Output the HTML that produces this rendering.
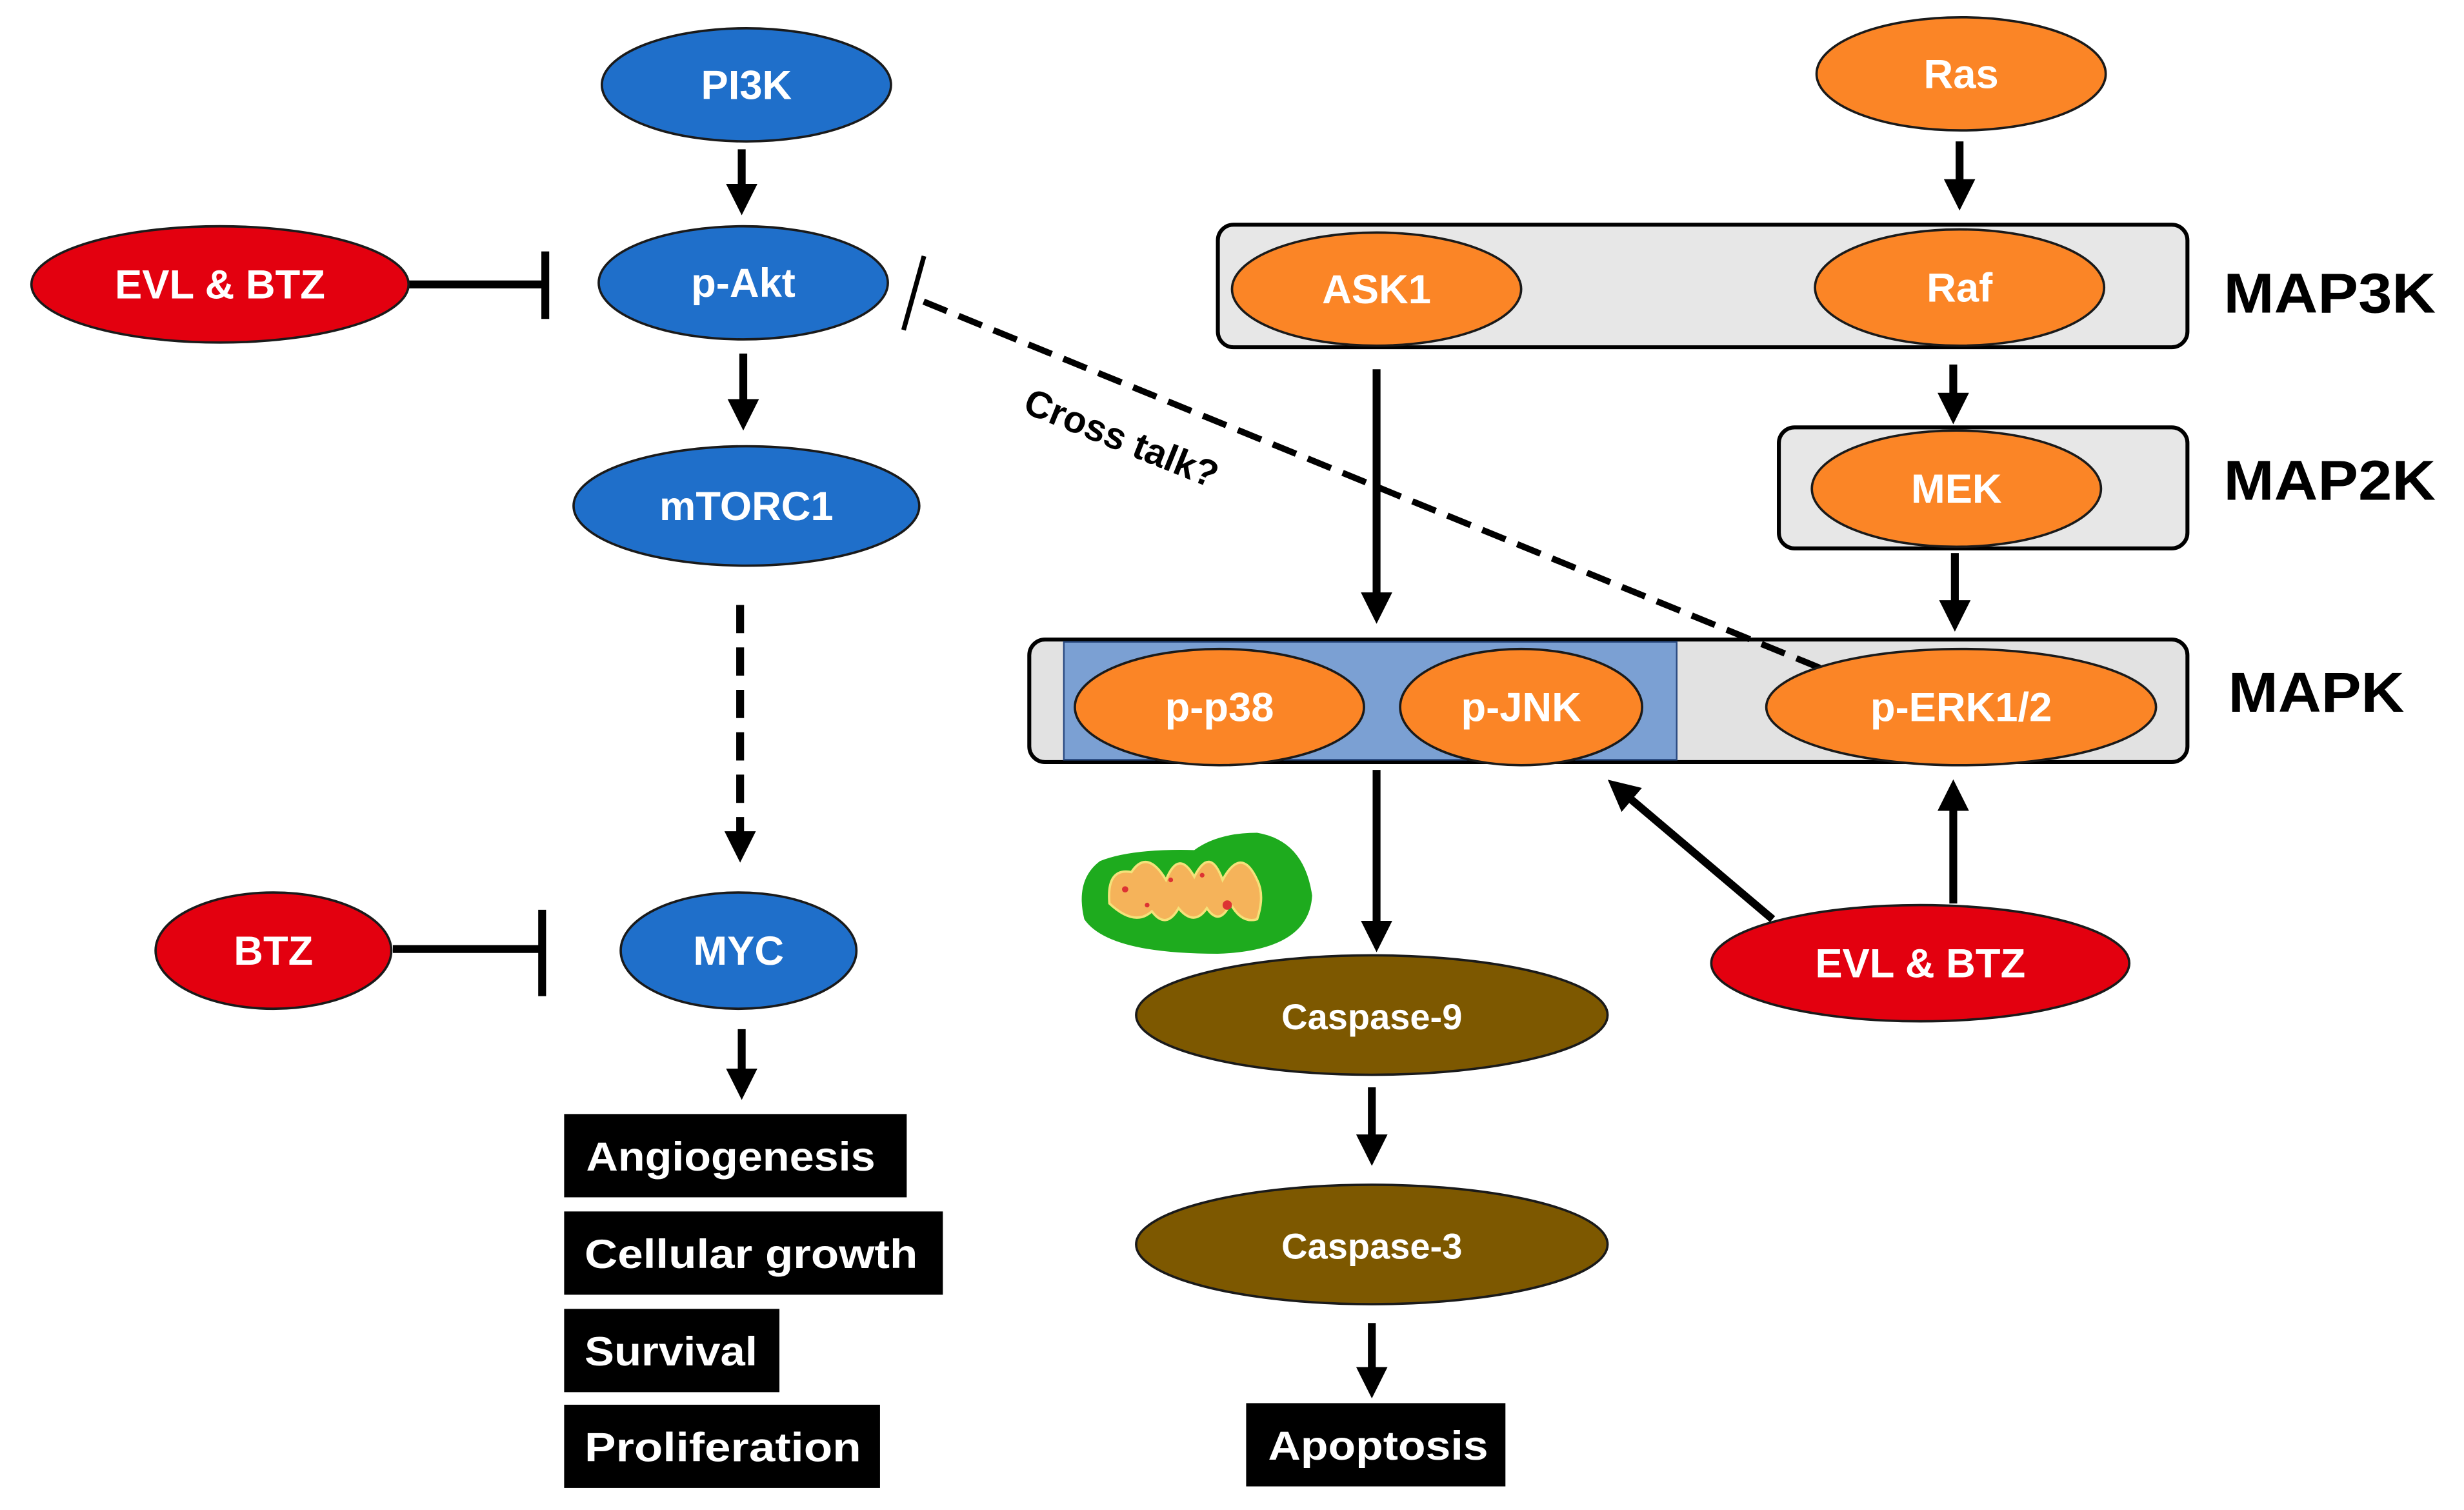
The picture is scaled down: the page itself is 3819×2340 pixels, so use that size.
<!DOCTYPE html>
<html><head><meta charset="utf-8"><style>html,body{margin:0;padding:0;background:#fff}svg{display:block}</style></head>
<body>
<svg width="3819" height="2340" viewBox="0 0 1568 961" preserveAspectRatio="none" xmlns="http://www.w3.org/2000/svg" font-family="Liberation Sans, sans-serif" font-weight="bold">
<defs>
<marker id="ah" markerWidth="4" markerHeight="4" refX="2.2" refY="2" orient="auto" markerUnits="strokeWidth"><path d="M0,0 L4,2 L0,4 z" fill="#000"/></marker>
</defs>
<g stroke="#000" stroke-width="5" fill="none">
<line x1="472" y1="95" x2="472" y2="128" marker-end="url(#ah)"/>
<line x1="473" y1="225" x2="473" y2="265" marker-end="url(#ah)"/>
<line x1="471" y1="385" x2="471" y2="540" stroke-dasharray="18,9" marker-end="url(#ah)"/>
<line x1="472" y1="655" x2="472" y2="691" marker-end="url(#ah)"/>
<line x1="260" y1="181" x2="347" y2="181"/>
<line x1="347" y1="160" x2="347" y2="203"/>
<line x1="250" y1="604" x2="345" y2="604"/>
<line x1="345" y1="579" x2="345" y2="634"/>
<line x1="1247" y1="90" x2="1247" y2="125" marker-end="url(#ah)"/>
<line x1="1243" y1="232" x2="1243" y2="261" marker-end="url(#ah)"/>
<line x1="1244" y1="352" x2="1244" y2="393" marker-end="url(#ah)"/>
<line x1="876" y1="235" x2="876" y2="388" marker-end="url(#ah)"/>
<line x1="876" y1="490" x2="876" y2="597" marker-end="url(#ah)"/>
<line x1="873" y1="692" x2="873" y2="733" marker-end="url(#ah)"/>
<line x1="873" y1="842" x2="873" y2="881" marker-end="url(#ah)"/>
<line x1="1128" y1="585" x2="1030" y2="502" marker-end="url(#ah)"/>
<line x1="1243" y1="575" x2="1243" y2="505" marker-end="url(#ah)"/>
</g>
<rect x="775" y="143" width="617" height="78" rx="10" fill="#e7e7e7" stroke="#000" stroke-width="2.5"/>
<rect x="1132" y="272" width="260" height="77" rx="10" fill="#e7e7e7" stroke="#000" stroke-width="2.5"/>
<rect x="655" y="407" width="737" height="78" rx="10" fill="#e2e2e2" stroke="#000" stroke-width="2.5"/>
<rect x="677" y="408.5" width="390" height="75" fill="#7ba0d3" stroke="#2a4a80" stroke-width="1"/>
<line x1="1158" y1="425" x2="583" y2="190" stroke="#000" stroke-width="4" stroke-dasharray="16,8"/>
<line x1="575" y1="210" x2="588" y2="163" stroke="#000" stroke-width="3"/>
<text x="650" y="262" font-size="24" fill="#000" transform="rotate(22 650 262)">Cross talk?</text>
<g stroke="#1a1a1a" stroke-width="1.5">
<ellipse cx="475" cy="54" rx="92" ry="36" fill="#1f6fca"/>
<ellipse cx="473" cy="180" rx="92" ry="36" fill="#1f6fca"/>
<ellipse cx="475" cy="322" rx="110" ry="38" fill="#1f6fca"/>
<ellipse cx="470" cy="605" rx="75" ry="37" fill="#1f6fca"/>
<ellipse cx="140" cy="181" rx="120" ry="37" fill="#e3000f"/>
<ellipse cx="174" cy="605" rx="75" ry="37" fill="#e3000f"/>
<ellipse cx="1222" cy="613" rx="133" ry="37" fill="#e3000f"/>
<ellipse cx="1248" cy="47" rx="92" ry="36" fill="#fb8526"/>
<ellipse cx="876" cy="184" rx="92" ry="36" fill="#fb8526"/>
<ellipse cx="1247" cy="183" rx="92" ry="37" fill="#fb8526"/>
<ellipse cx="1245" cy="311" rx="92" ry="37" fill="#fb8526"/>
<ellipse cx="776" cy="450" rx="92" ry="37" fill="#fb8526"/>
<ellipse cx="968" cy="450" rx="77" ry="37" fill="#fb8526"/>
<ellipse cx="1248" cy="450" rx="124" ry="37" fill="#fb8526"/>
<ellipse cx="873" cy="646" rx="150" ry="38" fill="#7d5800"/>
<ellipse cx="873" cy="792" rx="150" ry="38" fill="#7d5800"/>
</g>
<g>
<path d="M700,548 Q720,540 760,541 Q775,530 800,530 Q830,535 835,570 Q833,605 775,607 Q705,607 690,585 Q684,560 700,548z" fill="#1eab1e"/>
<path d="M706,575 Q704,552 720,555 Q730,540 742,560 Q750,540 760,558 Q770,538 778,560 Q790,538 800,560 Q805,570 800,585 Q790,588 783,575 Q776,590 768,578 Q760,590 750,578 Q742,592 733,580 Q722,590 706,575z" fill="#f5b35a" stroke="#f4e27a" stroke-width="1.5"/>
<circle cx="781" cy="576" r="3" fill="#d33"/><circle cx="716" cy="566" r="2" fill="#d33"/><circle cx="745" cy="560" r="1.5" fill="#d33"/><circle cx="765" cy="557" r="1.5" fill="#d33"/><circle cx="730" cy="576" r="1.5" fill="#d33"/>
</g>
<g fill="#fff" font-size="26" text-anchor="middle">
<text x="475" y="63">PI3K</text>
<text x="473" y="189">p-Akt</text>
<text x="475" y="331">mTORC1</text>
<text x="470" y="614">MYC</text>
<text x="140" y="190">EVL &amp; BTZ</text>
<text x="174" y="614">BTZ</text>
<text x="1222" y="622">EVL &amp; BTZ</text>
<text x="1248" y="56">Ras</text>
<text x="876" y="193">ASK1</text>
<text x="1247" y="192">Raf</text>
<text x="1245" y="320">MEK</text>
<text x="776" y="459">p-p38</text>
<text x="968" y="459">p-JNK</text>
<text x="1248" y="459">p-ERK1/2</text>
<text x="873" y="655" font-size="23">Caspase-9</text>
<text x="873" y="801" font-size="23">Caspase-3</text>
</g>
<g font-size="36" fill="#000">
<text x="1415" y="199" textLength="135" lengthAdjust="spacingAndGlyphs">MAP3K</text>
<text x="1415" y="318" textLength="135" lengthAdjust="spacingAndGlyphs">MAP2K</text>
<text x="1418" y="453" textLength="112" lengthAdjust="spacingAndGlyphs">MAPK</text>
</g>
<rect x="359" y="709" width="218" height="53" fill="#000"/>
<rect x="359" y="771" width="241" height="53" fill="#000"/>
<rect x="359" y="833" width="137" height="53" fill="#000"/>
<rect x="359" y="894" width="201" height="53" fill="#000"/>
<rect x="793" y="893" width="165" height="53" fill="#000"/>
<g fill="#fff" font-size="26">
<text x="373" y="745" textLength="184" lengthAdjust="spacingAndGlyphs">Angiogenesis</text>
<text x="372" y="807" textLength="212" lengthAdjust="spacingAndGlyphs">Cellular growth</text>
<text x="372" y="869" textLength="110" lengthAdjust="spacingAndGlyphs">Survival</text>
<text x="372" y="930" textLength="176" lengthAdjust="spacingAndGlyphs">Proliferation</text>
<text x="807" y="929" textLength="140" lengthAdjust="spacingAndGlyphs">Apoptosis</text>
</g>
</svg>
</body></html>
